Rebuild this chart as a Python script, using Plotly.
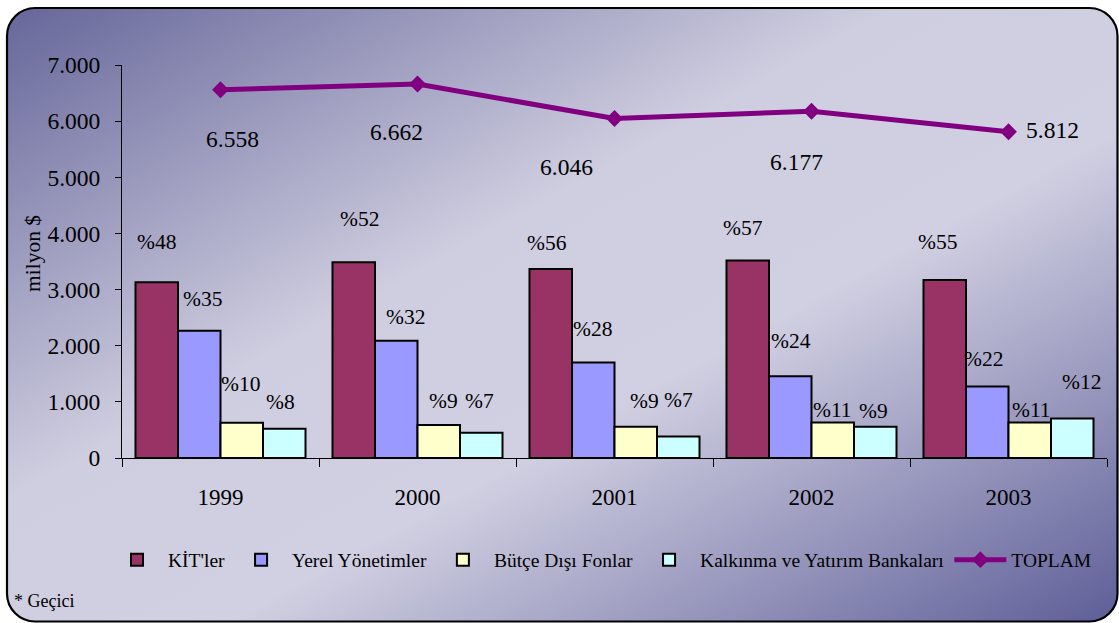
import base64
import plotly.graph_objects as go

# ---------------- data ----------------
years = ["1999", "2000", "2001", "2002", "2003"]
series_names = ["KİT'ler", "Yerel Yönetimler", "Bütçe Dışı Fonlar", "Kalkınma ve Yatırım Bankaları"]
kit = [3130, 3486, 3367, 3520, 3170]
yerel = [2268, 2090, 1703, 1454, 1275]
butce = [629, 588, 557, 634, 634]
kalkinma = [522, 451, 385, 557, 705]
toplam = [6558, 6662, 6046, 6177, 5812]
toplam_labels = ["6.558", "6.662", "6.046", "6.177", "5.812"]
share_kit = [48, 52, 56, 57, 55]
share_yerel = [35, 32, 28, 24, 22]
share_butce = [10, 9, 9, 11, 11]
share_kalkinma = [8, 7, 7, 9, 12]
y_ticks = [0, 1000, 2000, 3000, 4000, 5000, 6000, 7000]

series_values = [kit, yerel, butce, kalkinma]
series_shares = [share_kit, share_yerel, share_butce, share_kalkinma]

# ---------------- style ----------------
W, H = 1119, 623
ML, MR, MT, MB = 122, 12, 65, 165
PW, PH = W - ML - MR, H - MT - MB
BARGAP = 0.137
colors = ["#993366", "#9999FF", "#FFFFCC", "#CCFFFF"]
FONT = "Liberation Serif, Times New Roman, serif"

# manual label nudges (pixels), like hand-moved labels in the original
pct_dx = [[0, 3.5, -1, -3.5], [5.5, 9, 4.5, -2], [-4, -0.5, 9, 0], [-4.5, 1, 0, -2], [-7.5, -4, 2, 9]]
pct_dy = [[40, 32, 39, 27], [43, 24, 24, 32], [26, 33, 26, 36], [32, 35, 12, 16], [38, 27, 12, 36]]
tot_dx = [12, -21, -48, -15, 44]
tot_dy = [-49, -48, -48, -51, 2]

# ---------------- background (rounded gradient panel) ----------------
svg = f'''<svg xmlns="http://www.w3.org/2000/svg" width="{W}" height="{H}" viewBox="0 0 {W} {H}">
<defs><linearGradient id="g" x1="0" y1="0" x2="1" y2="1">
<stop offset="0" stop-color="#66669a"/>
<stop offset="0.40" stop-color="#cfcee0"/>
<stop offset="0.60" stop-color="#d1d0e2"/>
<stop offset="1" stop-color="#5e5e98"/>
</linearGradient></defs>
<rect x="7" y="8" width="{W-8.5}" height="{H-9.5}" rx="28" ry="28" fill="url(#g)" stroke="#000" stroke-width="2.2"/>
</svg>'''
bg_uri = "data:image/svg+xml;base64," + base64.b64encode(svg.encode("utf-8")).decode("ascii")

fig = go.Figure()

for name, vals, col in zip(series_names, series_values, colors):
    fig.add_trace(go.Bar(
        x=years, y=vals, name=name,
        marker=dict(color=col, line=dict(color="#000000", width=2)),
    ))

fig.add_trace(go.Scatter(
    x=years, y=toplam, name="TOPLAM", mode="lines+markers",
    line=dict(color="#800080", width=5),
    marker=dict(symbol="diamond", size=13, color="#800080"),
))

# percentage labels above bars
cat_w = PW / len(years)
bar_w = cat_w * (1 - BARGAP) / len(series_values)
annotations = []
for i, yr in enumerate(years):
    for k in range(len(series_values)):
        off = (k - (len(series_values) - 1) / 2) * bar_w
        annotations.append(dict(
            x=i, y=series_values[k][i], xref="x", yref="y",
            text="%" + str(series_shares[k][i]), showarrow=False,
            xanchor="center", yanchor="middle",
            xshift=off + pct_dx[i][k], yshift=pct_dy[i][k],
            font=dict(family=FONT, size=21.5, color="#000000"),
        ))
    annotations.append(dict(
        x=i, y=toplam[i], xref="x", yref="y",
        text=toplam_labels[i], showarrow=False,
        xanchor="center", yanchor="middle",
        xshift=tot_dx[i], yshift=tot_dy[i],
        font=dict(family=FONT, size=23.5, color="#000000"),
    ))

# y axis title
annotations.append(dict(
    x=(33 - ML) / PW, y=(H - MB - 254) / PH, xref="paper", yref="paper",
    xanchor="center", yanchor="middle",
    text="milyon $", textangle=-90, showarrow=False,
    font=dict(family=FONT, size=21.5, color="#000000"),
))
# footnote
annotations.append(dict(
    x=(12 - ML) / PW, y=(H - MB - 601) / PH, xref="paper", yref="paper",
    xanchor="left", yanchor="middle",
    text="* Geçici", showarrow=False,
    font=dict(family=FONT, size=18, color="#000000"),
))

fig.update_layout(
    width=W, height=H, autosize=False,
    margin=dict(l=ML, r=MR, t=MT, b=MB, pad=0, autoexpand=False),
    paper_bgcolor="#ffffff", plot_bgcolor="rgba(0,0,0,0)",
    barmode="group", bargap=BARGAP, bargroupgap=0,
    separators=",.",
    font=dict(family=FONT, size=20, color="#000000"),
    showlegend=True,
    legend=dict(
        orientation="h", x=(106 - ML) / PW, xanchor="left",
        y=(H - MB - 560) / PH, yanchor="middle",
        bgcolor="rgba(0,0,0,0)", font=dict(family=FONT, size=19.5, color="#000000"),
        itemwidth=52, tracegroupgap=0,
    ),
    images=[dict(
        source=bg_uri, xref="paper", yref="paper",
        x=-ML / PW, y=1 + MT / PH, sizex=W / PW, sizey=H / PH,
        xanchor="left", yanchor="top", sizing="stretch", layer="below",
    )],
    annotations=annotations,
)

fig.update_xaxes(
    type="category", categoryorder="array", categoryarray=years,
    range=[-0.5, len(years) - 0.5], automargin=False,
    showline=True, linecolor="#000000", linewidth=1,
    ticks="outside", tickson="boundaries", ticklen=8, tickcolor="#000000",
    showgrid=False, zeroline=False, tickangle=0,
    tickfont=dict(family=FONT, size=23, color="#000000"),
    ticklabelstandoff=18,
)
fig.update_yaxes(
    range=[0, 7000], tickvals=y_ticks, tickformat=",d", automargin=False,
    showline=True, linecolor="#000000", linewidth=1,
    ticks="outside", ticklen=6, tickcolor="#000000",
    showgrid=False, zeroline=False,
    tickfont=dict(family=FONT, size=23.5, color="#000000"),
    ticklabelstandoff=10,
)

fig.write_html(
    "out.html",
    config={"displayModeBar": False},
    post_script="document.body.style.margin='0';document.body.style.overflow='hidden';",
)
